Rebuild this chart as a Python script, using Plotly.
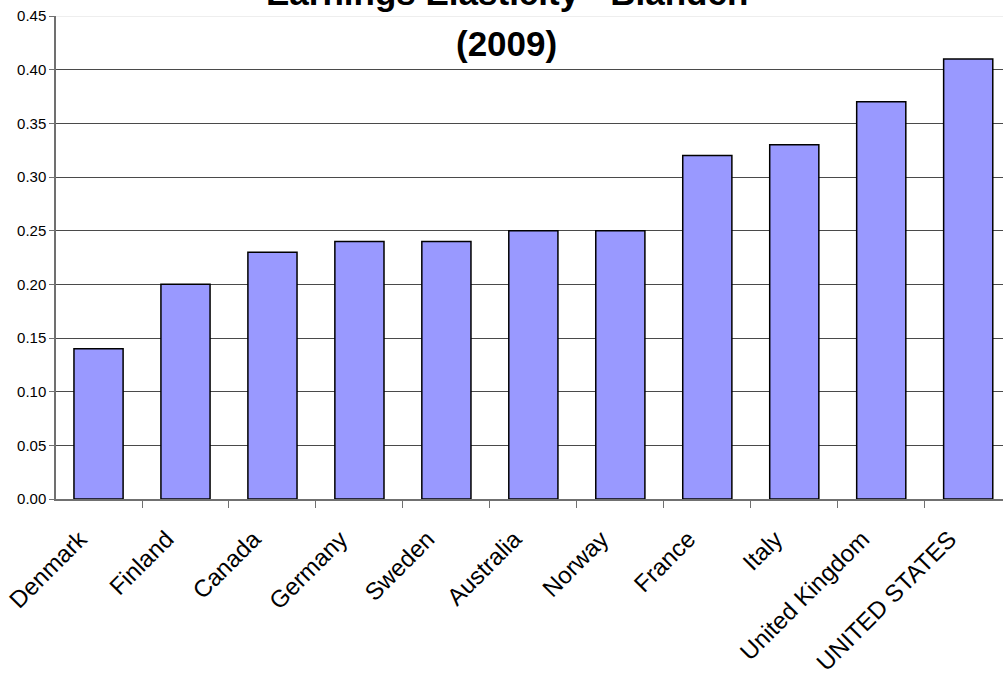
import plotly.graph_objects as go

countries = ['Denmark', 'Finland', 'Canada', 'Germany', 'Sweden', 'Australia',
             'Norway', 'France', 'Italy', 'United Kingdom', 'UNITED STATES']
elasticity = [0.14, 0.20, 0.23, 0.24, 0.24, 0.25, 0.25, 0.32, 0.33, 0.37, 0.41]
y_ticks = [0.0, 0.05, 0.10, 0.15, 0.20, 0.25, 0.30, 0.35, 0.40, 0.45]

FONT = 'Liberation Sans, Arial, sans-serif'
PLOT_H = 483  # plot area height in px, used to place the title lines

# trailing spaces push the rotated labels away from the ticks, like Excel does
pad = '\u00a0' * 4
labels = [c + pad for c in countries]

fig = go.Figure(go.Bar(
    x=countries, y=elasticity, width=0.565,
    marker=dict(color='#9999FF', line=dict(color='#000000', width=1.5)),
    showlegend=False))

fig.update_layout(
    width=1003, height=675,
    margin=dict(l=56, r=0, t=16, b=176),
    plot_bgcolor='#FFFFFF', paper_bgcolor='#FFFFFF',
    font=dict(family=FONT, color='#000000'),
)
fig.update_xaxes(
    range=[-0.489, 10.40], tickangle=-45, tickfont=dict(size=24),
    tickmode='array', tickvals=countries, ticktext=labels,
    showline=True, linecolor='#707070', linewidth=1.5,
    ticks='outside', ticklen=7, tickcolor='#707070', automargin=False,
    tickson='boundaries', showgrid=False, ticklabelstandoff=-4)
fig.update_yaxes(
    range=[0, 0.45], tickvals=y_ticks, tickformat='.2f', automargin=False,
    tickfont=dict(size=15), showline=True, linecolor='#707070', linewidth=1.5,
    ticks='outside', ticklen=5, tickcolor='#707070', ticklabeloverflow='allow',
    showgrid=True, gridcolor='#4a4a4a', gridwidth=1, zeroline=False)

# light frame line at the top of the plot area
fig.add_shape(type='line', xref='paper', yref='y', x0=0, x1=1, y0=0.45, y1=0.45,
              line=dict(color='#DDDDDD', width=1), layer='above')

fig.add_annotation(text='<b>Earnings Elasticity - Blanden</b>', xref='paper', yref='paper',
                   x=0.476, y=1.0 + 23 / PLOT_H, yanchor='middle', showarrow=False,
                   font=dict(size=35, family=FONT))
fig.add_annotation(text='<b>(2009)</b>', xref='paper', yref='paper',
                   x=0.476, y=1.0 - 27 / PLOT_H, yanchor='middle', showarrow=False,
                   font=dict(size=35, family=FONT))

fig.write_html('out.html', config={'displayModeBar': False},
               post_script="document.body.style.margin='0';")
